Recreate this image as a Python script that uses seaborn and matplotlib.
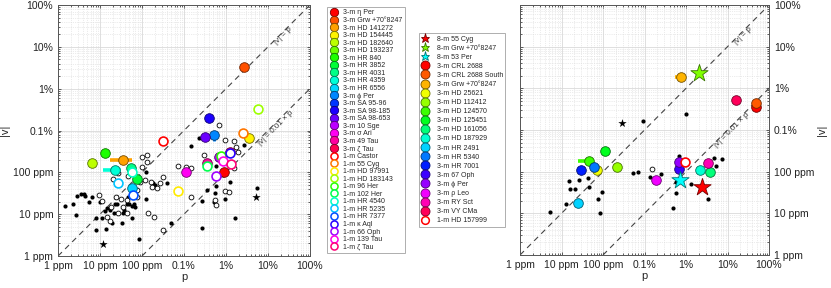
import colorsys
import numpy as np
import pandas as pd
import matplotlib
matplotlib.use("Agg")
import matplotlib.pyplot as plt
from matplotlib.lines import Line2D
from matplotlib.ticker import FixedLocator, LogLocator, NullFormatter
import seaborn as sns

sns.set_style("white")
plt.rcParams['font.family'] = ['Liberation Sans', 'DejaVu Sans']

nan = np.nan
PPM = 1e-6

# ---------------- data (values in ppm) ----------------
# left panel
names3L = ['η Per', 'Grw +70°8247', 'HD 141272', 'HD 154445', 'HD 182640', 'HD 193237',
           'HR 840', 'HR 3852', 'HR 4031', 'HR 4359', 'HR 6556', 'ϕ Per', 'SA 95-96',
           'SA 98-185', 'SA 98-653', '10 Sge', 'σ Ari', '49 Tau', 'ζ Tau']
p3L = [8800, 26400, 36, 35500, 6.3, nan, 13.3, 75, 55, 22.6, 59, 5070, nan,
       3850, 3090, 6680, 1110, 3500, 12700]
v3L = [104, 32400, 197, 674, 164, nan, 290, 68, 125, 114, 41.5, 780, nan,
       1950, 713, 237, 104, 164, 312]
p3L_lo = [nan, nan, 17, nan, nan, nan, nan, nan, nan, 12, nan, nan, nan, nan, nan, nan, nan, nan, nan]
p3L_hi = [nan, nan, 57, nan, nan, nan, nan, nan, nan, 31, nan, nan, nan, nan, nan, nan, nan, nan, nan]
v3L_lo = [nan, nan, nan, nan, nan, nan, nan, nan, nan, nan, nan, 560, nan, nan, nan, nan, nan, nan, nan]

names1L = ['Castor', '55 Cyg', 'HD 97991', 'HD 183143', '96 Her', '102 Her', 'HR 4540',
           'HR 5235', 'HR 7377', 'κ Aql', '66 Oph', '139 Tau', 'ζ Tau']
p1L = [324, 25000, 725, 57000, 7600, 3500, 57, 27, 62, 12200, 5660, 8480, 13200]
v1L = [571, 888, 36.5, 3325, 250, 142, 100, 54.6, 28.7, 285, 82, 190, 155]

bfL_p = [1.5, 2.3, 2.85, 3.5, 4.1, 4.4, 5.5, 6.3, 9.9, 2.7, 8.2, 10.9, 13.5, 14.3, 17.2,
         22.6, 25.7, 21.4, 18.8, 33.9, 8.2, 13.8, 34.5, 37, 43, 49.8, 56.6, 64.5, 66.8,
         58.7, 47, 68, 86, 122, 180, 205, 389, 125, 484, 1456, 2264, 2670, 2670, 3515,
         5360, 5070, 5870, 5870, 9640, 12240, 16700, 26400, 55100, 5870, 8300]
bfL_v = [16, 18, 27, 30, 31, 27, 20, 26, 19.5, 9.6, 7.9, 7.9, 12.1, 13.8, 12.6,
         17.5, 17.5, 10.5, 6.3, 6.0, 4.2, 4.4, 10.5, 12.6, 17.5, 17.5, 16, 17.5, 15.1,
         7.9, 26, 25.3, 2.5, 104, 54.6, 49.8, 56.6, 22.6, 6.3, 426, 674, 21, 4.6, 37.8,
         31.5, 19.9, 48, 74.6, 22.6, 57.7, 7.9, 450, 41.5, 142, 86]
boL_p = [9.5, 19.9, 27.2, 23.9, 31, 43, 35.8, 43, 27.2, 14.3, 17.2, 74.6, 77.3, 98, 129,
         129, 118, 161, 170, 224, 324, 269, 142, 194, 312, 1456, 2925, 9640, 11800, 5560,
         5870, 6930, 9640, 15800, 17700, 19000, 15200, 739, 1107, 1485, 89.6, 47, 102,
         10.9, 17.8]
boL_v = [28.7, 68, 94.7, 26.2, 22.6, 21.8, 15.1, 10.9, 10.5, 8.4, 7.0, 26.2, 37.8, 136, 180,
         260, 65.6, 59.8, 43.8, 41.5, 76, 56.6, 10.5, 8.4, 4.2, 26.2, 260, 36.5, 34.5, 21.8,
         16.9, 1353, 593, 571, 411, 312, 125, 142, 136, 125, 59.8, 81.7, 228, 20.6, 14.6]
bsL_p = [11.9, 51200]
bsL_v = [1.94, 26.2]

# right panel
names8R = ['55 Cyg', 'Grw +70°8247', '53 Per']
p8R = [24800, 20600, 7070]
v8R = [42, 22900, 63]

names3R = ['CRL 2688', 'CRL 2688 South', 'Grw +70°8247', 'HD 25621', 'HD 112412',
           'HD 124570', 'HD 125451', 'HD 161056', 'HD 187929', 'HR 2491', 'HR 5340',
           'HR 7001', '67 Oph', 'ϕ Per', 'ρ Leo', 'RY Sct', 'VY CMa']
p3R = [494000, 494000, 7750, 72.5, 220, 46.6, 111, 38600, 22200, 25.3, 60.3, 29.4,
       6680, 6680, 1870, 34000, 157000]
v3R = [3500, 4530, 19050, 110, 127, 184, 319, 96.4, 110, 18, 132, 110, 114, 174,
       63, 158, 5250]
p3R_lo = [nan, nan, 5360, nan, nan, 25, nan, nan, nan, nan, nan, nan, nan, nan, nan, nan, nan]
p3R_hi = [nan, nan, 7750, nan, nan, 46.6, nan, nan, nan, nan, nan, nan, nan, nan, nan, nan, nan]

names1R = ['HD 157999']
p1R = [9680]
v1R = [167]

bfR_p = [5.3, 12.6, 15.4, 16, 21.5, 26.8, 42.5, 46.6, 73.9, 84, 92, 927, 532, 703, 1340,
         2466, 4890, 5660, 6680, 5870, 10200, 13000, 34000, 47300, 53900, 75100]
bfR_v = [11, 16.7, 59.7, 39, 39, 63, 71.8, 43.6, 21.7, 10, 31.9, 1675, 91.2, 98, 75.9,
         88, 13.2, 31.3, 242, 56.5, 2420, 50.6, 22.1, 209, 139, 198]
boR_p = [1527]
boR_v = [114]
bsR_p = [279]
bsR_v = [1445]

tick_vals = [1e-6, 1e-5, 1e-4, 1e-3, 1e-2, 1e-1, 1]
tick_labels = ['1 ppm', '10 ppm', '100 ppm', '0.1%', '1%', '10%', '100%']
lims = [1e-6, 1.0]


def hue_colors(n, denom=None):
    d = denom if denom else n
    return [colorsys.hsv_to_rgb(i / d, 1.0, 1.0) for i in range(n)]


def dark(c, f=0.45):
    return tuple(x * f for x in c)


def style_axis(ax, right=False):
    ax.set_xscale('log')
    ax.set_yscale('log')
    ax.set_xlim(lims)
    ax.set_ylim(lims)
    for axis in (ax.xaxis, ax.yaxis):
        axis.set_major_locator(FixedLocator(tick_vals))
        axis.set_minor_locator(LogLocator(base=10, subs=np.arange(2, 10), numticks=20))
        axis.set_minor_formatter(NullFormatter())
    ax.set_xticklabels(tick_labels)
    ax.set_yticklabels(tick_labels)
    ax.grid(which='major', color='#d9d9d9', lw=0.6, ls='-')
    ax.grid(which='minor', color='#d9d9d9', lw=0.5, ls=':')
    ax.set_axisbelow(True)
    ax.tick_params(which='both', direction='in', top=True, right=True, left=True, bottom=True,
                   labelsize=7.5, colors='#222', length=2.5, width=0.5)
    ax.tick_params(which='minor', length=1.3)
    for s in ax.spines.values():
        s.set_color('#555')
        s.set_linewidth(0.7)
    if right:
        ax.yaxis.set_label_position('right')
        ax.tick_params(labelleft=False, labelright=True)
    ax.set_xlabel('p', fontsize=8, labelpad=1)
    ax.set_ylabel('|v|', fontsize=8, labelpad=2)
    # reference lines
    xs = np.array(lims)
    ax.plot(xs, xs, ls=(0, (5, 4)), color='#444', lw=0.8, zorder=2)
    ax.plot(xs * 100, xs, ls=(0, (5, 4)), color='#444', lw=0.8, zorder=2)


def draw_points(ax, p, v, colors, filled, s=48, marker='o', lo=None, hi=None, vlo=None):
    for i, (pp, vv) in enumerate(zip(p, v)):
        if np.isnan(pp):
            continue
        c = colors[i]
        if lo is not None and not np.isnan(lo[i]):
            ax.plot([lo[i] * PPM, hi[i] * PPM], [vv * PPM, vv * PPM], color=c, lw=2.6,
                    solid_capstyle='butt', zorder=4)
        if vlo is not None and not np.isnan(vlo[i]):
            ax.plot([pp * PPM, pp * PPM], [vlo[i] * PPM, vv * PPM], color=c, lw=2.0,
                    solid_capstyle='butt', zorder=4)
        df = pd.DataFrame({'p': [pp * PPM], 'v': [vv * PPM]})
        if filled:
            sns.scatterplot(data=df, x='p', y='v', ax=ax, color=c, edgecolor=dark(c),
                            linewidth=0.6, s=s, marker=marker, legend=False, zorder=5)
        else:
            sns.scatterplot(data=df, x='p', y='v', ax=ax, color='white', edgecolor=c,
                            linewidth=1.2, s=s * 0.85, marker=marker, legend=False, zorder=6)


def draw_black(ax, fp, fv, op, ov, sp, sv):
    dff = pd.DataFrame({'p': np.array(fp) * PPM, 'v': np.array(fv) * PPM})
    sns.scatterplot(data=dff, x='p', y='v', ax=ax, color='black', s=9, linewidth=0,
                    legend=False, zorder=3)
    dfo = pd.DataFrame({'p': np.array(op) * PPM, 'v': np.array(ov) * PPM})
    sns.scatterplot(data=dfo, x='p', y='v', ax=ax, color='white', edgecolor='black',
                    s=12, linewidth=0.6, legend=False, zorder=3)
    dfs = pd.DataFrame({'p': np.array(sp) * PPM, 'v': np.array(sv) * PPM})
    sns.scatterplot(data=dfs, x='p', y='v', ax=ax, color='black', s=40, marker='*',
                    linewidth=0, legend=False, zorder=3)


fig = plt.figure(figsize=(8.31, 2.88), dpi=100)
axL = fig.add_axes([0.0698, 0.111, 0.3032, 0.8715])
axR = fig.add_axes([0.6258, 0.1146, 0.2996, 0.868])
style_axis(axL)
style_axis(axR, right=True)

cL3 = hue_colors(len(names3L))
cL1 = hue_colors(len(names1L))
cR8 = hue_colors(len(names8R), denom=len(names8R) + 1)
cR3 = hue_colors(len(names3R))
cR1 = hue_colors(len(names1R))

draw_black(axL, bfL_p, bfL_v, boL_p, boL_v, bsL_p, bsL_v)
draw_points(axL, p3L, v3L, cL3, True, lo=p3L_lo, hi=p3L_hi, vlo=v3L_lo)
draw_points(axL, p1L, v1L, cL1, False)

draw_black(axR, bfR_p, bfR_v, boR_p, boR_v, bsR_p, bsR_v)
draw_points(axR, p3R, v3R, cR3, True, lo=p3R_lo, hi=p3R_hi)
draw_points(axR, p1R, v1R, cR1, False)
draw_points(axR, p8R, v8R, cR8, True, s=170, marker='*')

# reference line labels
txt_kw = dict(fontsize=5.8, color='#333', rotation=45, rotation_mode='anchor',
              ha='center', va='top')
for ax, a1, a2 in ((axL, 0.2, 0.13), (axR, 0.2, 0.11)):
    ax.annotate('|v| = p', (a1, a1), xytext=(0.4, 0.4), textcoords='offset points', **txt_kw)
    ax.annotate('|v| = 0.01 × p', (a2, a2 / 100), xytext=(0.4, 0.4),
                textcoords='offset points', **txt_kw)


def handles(names, colors, prefix, filled, marker='o', ms=6):
    hs = []
    for n, c in zip(names, colors):
        if filled:
            h = Line2D([], [], ls='', marker=marker, ms=ms, markerfacecolor=c,
                       markeredgecolor=dark(c), markeredgewidth=0.6, label=f'{prefix} {n}')
        else:
            h = Line2D([], [], ls='', marker=marker, ms=ms * 0.85, markerfacecolor='white',
                       markeredgecolor=c, markeredgewidth=1.1, label=f'{prefix} {n}')
        hs.append(h)
    return hs


legL = handles(names3L, cL3, '3-m', True) + handles(names1L, cL1, '1-m', False)
legR = (handles(names8R, cR8, '8-m', True, marker='*', ms=6.5) +
        handles(names3R, cR3, '3-m', True, ms=6.5) + handles(names1R, cR1, '1-m', False, ms=6.5))

leg_kw = dict(fontsize=5, frameon=True, fancybox=False, handlelength=1.2,
              borderpad=0.35, borderaxespad=0)
l1 = fig.legend(handles=legL, loc='upper left', bbox_to_anchor=(0.3935, 0.9757),
                labelspacing=0.08, handletextpad=0.8, **leg_kw)
l2 = fig.legend(handles=legR, loc='upper left', bbox_to_anchor=(0.504, 0.885),
                labelspacing=0.3, handletextpad=1.0, **leg_kw)
for l in (l1, l2):
    l.get_frame().set_edgecolor('#999')
    l.get_frame().set_linewidth(0.7)

fig.savefig('out.png', dpi=100)
